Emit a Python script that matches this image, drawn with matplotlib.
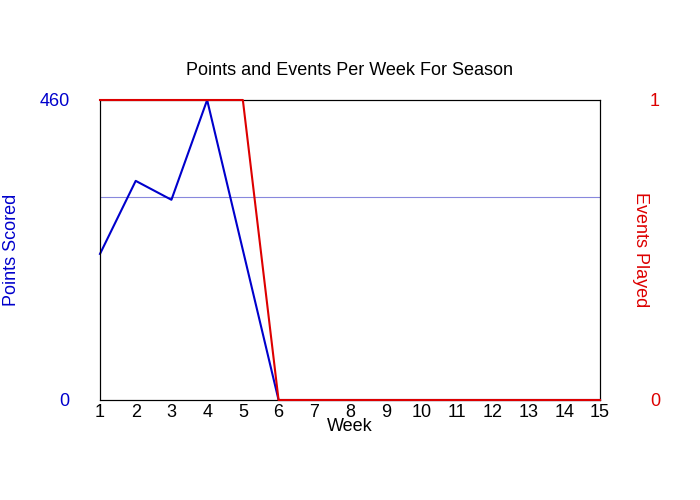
import matplotlib
matplotlib.use("Agg")
import matplotlib.pyplot as plt

weeks = list(range(1, 16))
points = [224, 336, 307, 460, 230, 0, 0, 0, 0, 0, 0, 0, 0, 0, 0]
events = [1, 1, 1, 1, 1, 0, 0, 0, 0, 0, 0, 0, 0, 0, 0]
avg_points = sum(points[:5]) / 5

plt.rcParams['font.family'] = ['Liberation Sans', 'DejaVu Sans']
fig = plt.figure(figsize=(7, 5), dpi=100)
ax = fig.add_axes([100/700, 100/500, 500/700, 300/500])
ax.plot(weeks, points, color='#0000cc', lw=1.5, clip_on=False, zorder=3)
ax.axhline(avg_points, color='#8888dd', lw=0.8)
ax.set_xlim(1, 15)
ax.set_ylim(0, 460)
ax.set_yticks([0, 460])
ax.set_xticks(weeks)
ax.tick_params(length=0, labelsize=13, pad=3)
ax.tick_params(axis='y', colors='#0000cc', pad=22)
ax.set_ylabel('Points Scored', color='#0000cc', fontsize=13)
ax.yaxis.set_label_coords(-80/500, 0.5)
ax.set_xlabel('Week', fontsize=13, labelpad=-2)
ax.set_title('Points and Events Per Week For Season', fontsize=13, pad=18)

ax2 = ax.twinx()
ax2.plot(weeks, events, color='#dd0000', lw=1.5, clip_on=False, zorder=3)
ax2.set_ylim(0, 1)
ax2.set_yticks([0, 1])
ax2.tick_params(length=0, labelsize=13, colors='#dd0000', pad=36)
ax2.set_ylabel('Events Played', color='#dd0000', fontsize=13, rotation=270, va='center')
ax2.yaxis.set_label_coords(1 + 40/500, 0.5)
for a in (ax, ax2):
    for s in a.spines.values():
        s.set_linewidth(0.8)
fig.savefig('out.png')
